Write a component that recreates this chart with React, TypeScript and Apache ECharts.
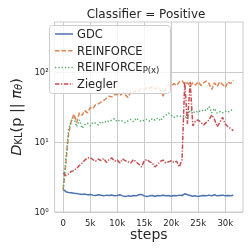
import React, { useEffect, useRef } from "react";
import * as echarts from "echarts";

const steps = [0, 500, 1000, 1500, 2000, 2500, 3000, 3500, 4000, 4500, 5000, 5500, 6000, 6500, 7000, 7500, 8000, 8500, 9000, 9500, 10000, 10500, 11000, 11500, 12000, 12500, 13000, 13500, 14000, 14500, 15000, 15500, 16000, 16500, 17000, 17500, 18000, 18500, 19000, 19500, 20000, 20500, 21000, 21500, 22000, 22500, 23000, 23500, 24000, 24500, 25000, 25500, 26000, 26500, 27000, 27500, 28000, 28500, 29000, 29500, 30000, 30500, 31000, 31500];

const gdc = [2.1, 1.95, 1.9, 1.88, 1.85, 1.83, 1.8, 1.78, 1.8, 1.76, 1.78, 1.74, 1.72, 1.76, 1.73, 1.7, 1.74, 1.72, 1.75, 1.7, 1.72, 1.76, 1.7, 1.66, 1.7, 1.68, 1.72, 1.7, 1.76, 1.78, 1.7, 1.66, 1.7, 1.72, 1.68, 1.72, 1.7, 1.73, 1.7, 1.72, 1.68, 1.72, 1.7, 1.74, 1.72, 1.82, 1.76, 1.72, 1.68, 1.7, 1.66, 1.7, 1.72, 1.7, 1.74, 1.7, 1.76, 1.7, 1.72, 1.74, 1.7, 1.72, 1.7, 1.73];

const reinforce = [2.1, 5.0, 13, 20, 25, 19, 26, 24, 28, 26, 31, 30, 34, 35, 37, 39, 42, 45, 44, 47, 48, 46, 50, 47, 43, 52, 50, 55, 53, 58, 56, 60, 58, 62, 57, 60, 55, 45, 60, 65, 62, 68, 64, 72, 75, 66, 70, 62, 70, 65, 72, 64, 70, 74, 68, 56, 70, 62, 72, 66, 60, 72, 68, 76];

const reinforcePx = [2.1, 6.0, 15, 20, 22, 16.5, 20.6, 15.7, 17.5, 18.5, 17, 19, 18.5, 17.5, 19.5, 18.5, 20, 19.5, 20.5, 21.5, 19.5, 20.5, 19.8, 18.9, 20, 21, 19.5, 21.8, 20.5, 19.5, 20.5, 21, 19.8, 21.5, 20.5, 22, 20, 22.5, 24, 25.8, 24, 22.5, 23.5, 23, 23.5, 21.8, 24, 28.6, 27, 26, 28, 27, 29, 28, 32, 26, 30, 25.8, 27, 26, 27.5, 26.5, 28, 29.5];

const ziegler = [3.6, 3.3, 3.5, 3.8, 3.9, 4.2, 4.6, 5.0, 5.5, 5.9, 6.0, 5.6, 5.3, 5.7, 5.4, 5.8, 5.1, 5.6, 5.9, 5.3, 5.5, 5.0, 5.7, 5.4, 5.2, 5.0, 5.6, 5.2, 4.8, 4.4, 5.4, 5.6, 5.2, 5.0, 4.4, 4.8, 5.3, 5.5, 5.0, 5.2, 5.4, 5.1, 5.3, 4.4, 5.6, 72, 18, 72, 17, 20, 20.6, 19, 17.5, 19, 20.6, 24.3, 21, 16.5, 19, 22.5, 18, 16.5, 15.5, 14.5];

const xTicks = [0, 5000, 10000, 15000, 20000, 25000, 30000];
const yTicks = [1, 10, 100];
const seriesNames = ["GDC", "REINFORCE", "REINFORCE_P(x)", "Ziegler"];
const colors = ["#4C72B0", "#DD8452", "#55A868", "#C44E52"];
const dashes: any[] = [null, [4.5, 2], [1.3, 2], [4.5, 1.5, 1.3, 1.5]];

const FONT = "DejaVu Sans";
const TXT = "#262626";

export default function App() {
  const ref = useRef<HTMLDivElement>(null);
  useEffect(() => {
    const chart = echarts.init(ref.current!, null, { renderer: "svg" });
    const pairs = (ys: number[]) => steps.map((s, i) => [s, ys[i]]);
    const sup: Record<string, string> = { "0": "\u2070", "1": "\u00b9", "2": "\u00b2" };
    const allData = [gdc, reinforce, reinforcePx, ziegler];
    const series = seriesNames.map((name, i) => ({
      name,
      type: "line",
      data: pairs(allData[i]),
      showSymbol: false,
      symbol: "none",
      lineStyle: { color: colors[i], width: 1.5, type: dashes[i] || "solid" },
      itemStyle: { color: colors[i] },
    }));

    const legendX = 49.5;
    const legendY = 25.5;
    const rowH = 16.7;
    const legendEls: any[] = [
      {
        type: "rect",
        z: 100,
        shape: { x: legendX, y: legendY, width: 121, height: 68, r: 3 },
        style: { fill: "rgba(255,255,255,0.8)", stroke: "#cccccc", lineWidth: 1 },
      },
    ];
    seriesNames.forEach((name, i) => {
      const cy = 34 + i * rowH;
      legendEls.push({
        type: "line",
        z: 101,
        shape: { x1: 55, y1: cy, x2: 73, y2: cy },
        style: { stroke: colors[i], lineWidth: 1.5, lineDash: dashes[i] || null },
      });
      legendEls.push({
        type: "text",
        z: 101,
        x: 77,
        y: cy,
        style: {
          text: name === "REINFORCE_P(x)" ? "{a|REINFORCE}{s|P(x)}" : "{a|" + name + "}",
          verticalAlign: "middle",
          align: "left",
          fill: TXT,
          rich: {
            a: { fontSize: 11.5, fontFamily: FONT, fill: TXT, lineHeight: 14 },
            s: { fontSize: 8.5, fontFamily: FONT, fill: TXT, lineHeight: 14, padding: [6, 0, 0, 0] },
          },
        },
      });
    });

    chart.setOption({
      animation: false,
      textStyle: { fontFamily: FONT },
      graphic: [
        {
          type: "text",
          x: 146,
          y: 14,
          z: 100,
          style: {
            text: "Classifier = Positive",
            fontSize: 12,
            fontFamily: FONT,
            fill: TXT,
            align: "center",
            verticalAlign: "middle",
          },
        },
        ...legendEls,
      ],
      grid: { left: 49, right: 8, top: 22, bottom: 39, show: true, borderColor: "#cccccc", borderWidth: 1 },
      xAxis: {
        type: "value",
        min: -1585,
        max: 33285,
        name: "steps",
        nameLocation: "middle",
        nameGap: 15,
        nameMoveOverlap: false,
        nameTextStyle: { fontSize: 14, color: TXT, fontFamily: FONT },
        axisLine: { show: false },
        axisTick: { show: false, customValues: xTicks },
        axisLabel: {
          customValues: xTicks,
          fontSize: 8.5,
          color: TXT,
          margin: 6,
          fontFamily: FONT,
          formatter: (v: number) => (v === 0 ? "0" : v / 1000 + "k"),
        },
        splitLine: { show: true, lineStyle: { color: "#cccccc", width: 1 } },
      },
      yAxis: {
        type: "log",
        logBase: 10,
        min: 1,
        max: 515,
        name: "{d|D}{k|KL}{n|(p || }{p|\u03c0}{t|\u03b8}{n|)}",
        nameLocation: "middle",
        nameRotate: 90,
        nameGap: 24,
        nameTextStyle: {
          color: TXT,
          fontFamily: FONT,
          rich: {
            d: { fontSize: 14.5, fontStyle: "italic", fontFamily: FONT, color: TXT },
            k: { fontSize: 10, fontFamily: FONT, color: TXT, padding: [6, 0, 0, 0] },
            n: { fontSize: 14.5, fontFamily: FONT, color: TXT },
            p: { fontSize: 14.5, fontStyle: "italic", fontFamily: FONT, color: TXT },
            t: { fontSize: 10, fontStyle: "italic", fontFamily: FONT, color: TXT, padding: [6, 0, 0, 0] },
          },
        },
        axisLine: { show: false },
        axisTick: { show: false, customValues: yTicks },
        axisLabel: {
          customValues: yTicks,
          fontSize: 8.5,
          color: TXT,
          margin: 6,
          fontFamily: FONT,
          formatter: (v: number) => "10" + sup[String(Math.round(Math.log10(v)))],
        },
        splitLine: { show: true, lineStyle: { color: "#cccccc", width: 1 } },
        minorTick: { show: false },
        minorSplitLine: { show: false },
      },
      series,
    });
    return () => chart.dispose();
  }, []);
  return <div ref={ref} style={{ position: "fixed", left: 0, top: 0, width: 251, height: 251 }} />;
}
